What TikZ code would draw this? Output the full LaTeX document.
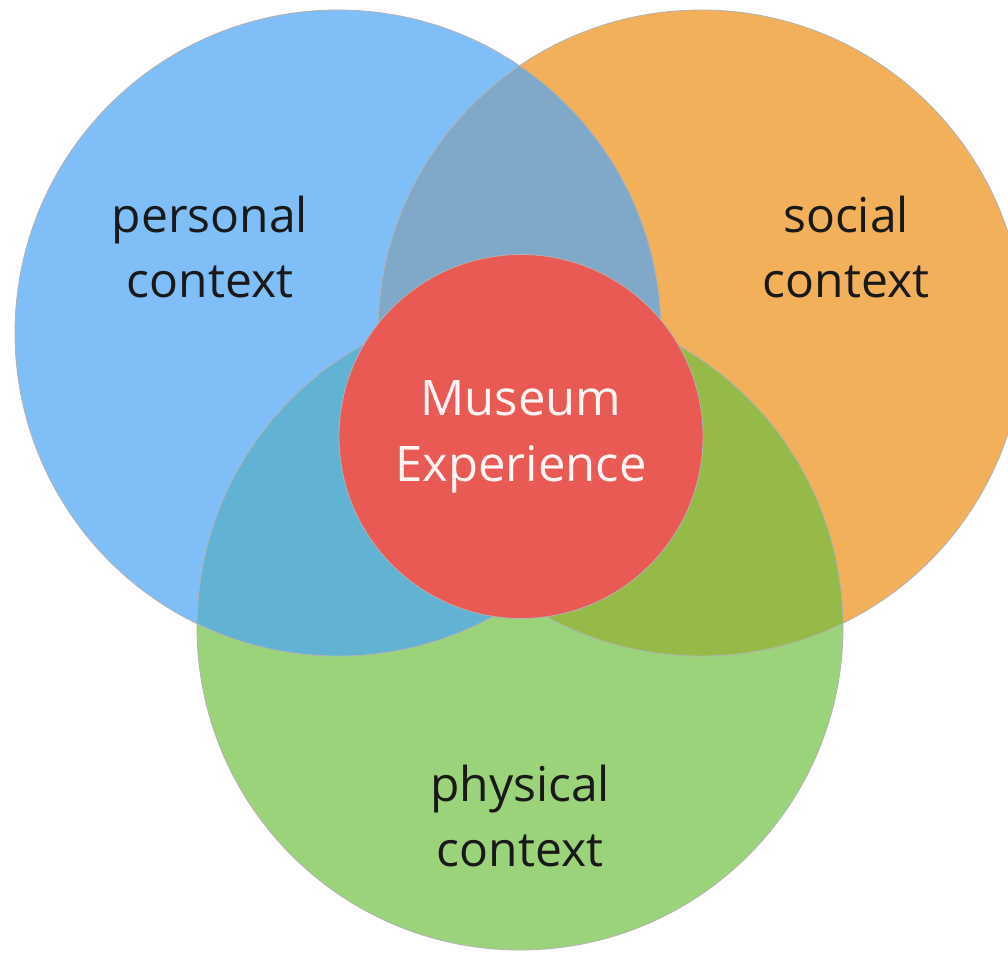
\documentclass[tikz,border=0pt]{standalone}
\usepackage{fontspec}
\setmainfont{Open Sans}
\definecolor{personalblue}{RGB}{128,190,248}
\definecolor{socialorange}{RGB}{242,176,90}
\definecolor{physicalgreen}{RGB}{155,211,122}
\definecolor{museumred}{RGB}{233,90,85}
\definecolor{blueorange}{RGB}{128,168,200}
\definecolor{bluegreen}{RGB}{98,178,212}
\definecolor{orangegreen}{RGB}{150,186,72}
\tikzset{
  ctx/.style={circle, minimum size=646pt, inner sep=0pt},
  rim/.style={draw=black!30, line width=0.8pt},
  ctxtext/.style={font=\fontsize{48}{65}\selectfont, align=center, text=black!90}
}
\begin{document}
\begin{tikzpicture}[x=1pt,y=-1pt]
  \useasboundingbox (0,0) rectangle (1008,957);
  % the three contexts
  \node[ctx, fill=personalblue] (personal) at (338,333) {};
  \node[ctx, fill=socialorange] (social) at (701,333) {};
  \node[ctx, fill=physicalgreen] (physical) at (520,627) {};
  % overlaps
  \begin{scope}
    \clip (personal.center) circle[radius=323pt];
    \fill[blueorange] (social.center) circle[radius=323pt];
    \fill[bluegreen] (physical.center) circle[radius=323pt];
  \end{scope}
  \begin{scope}
    \clip (social.center) circle[radius=323pt];
    \fill[orangegreen] (physical.center) circle[radius=323pt];
  \end{scope}
  \draw[rim] (personal.center) circle[radius=323pt];
  \draw[rim] (social.center) circle[radius=323pt];
  \draw[rim] (physical.center) circle[radius=323pt];
  % centre
  \node[ctx, minimum size=364pt, fill=museumred, rim, ctxtext,
        font=\fontsize{49}{66}\selectfont, text=white!96!red] (museum) at (521,436.5) {Museum\\Experience};
  \node[ctxtext] (personallabel) at (210,247) {personal\\context};
  \node[ctxtext] (sociallabel) at (846,247) {social\\context};
  \node[ctxtext] (physicallabel) at (520,816) {physical\\context};
\end{tikzpicture}
\end{document}
